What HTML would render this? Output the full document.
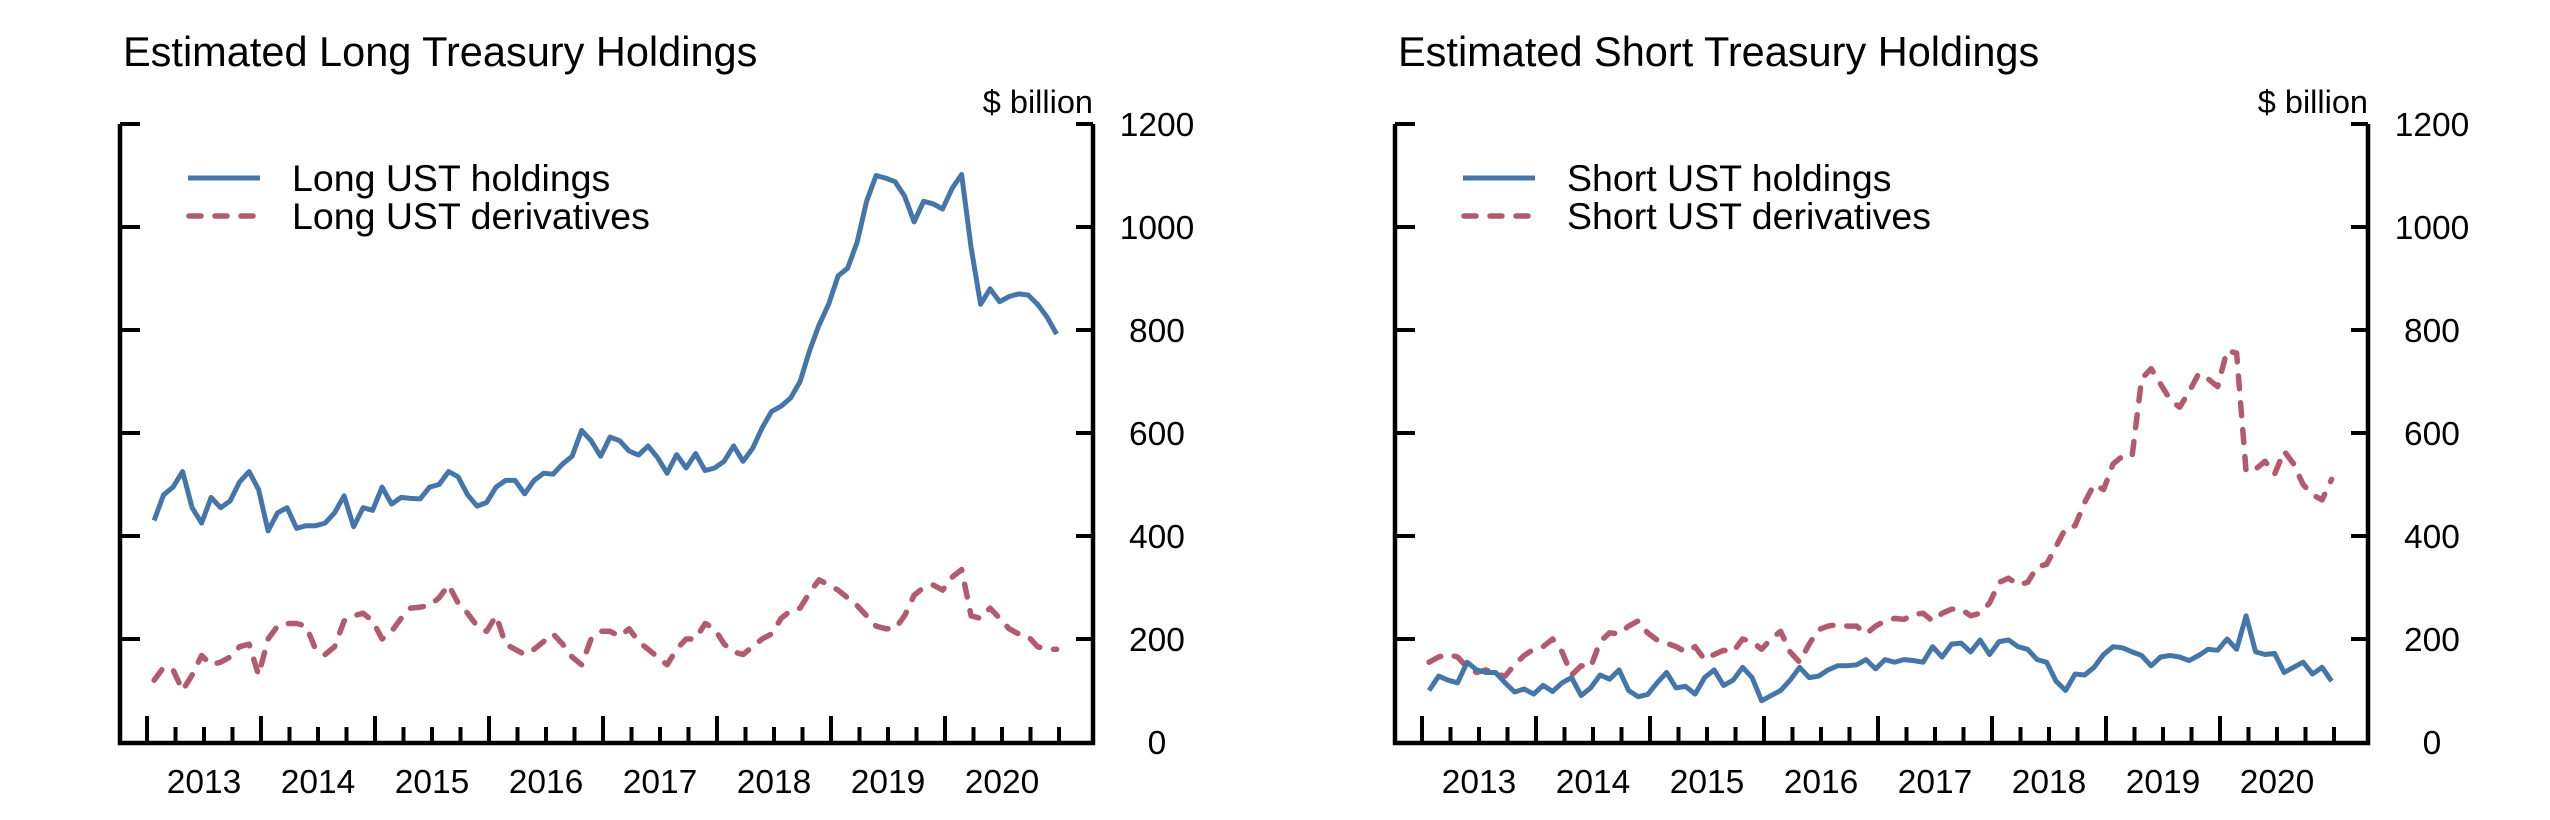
<!DOCTYPE html>
<html><head><meta charset="utf-8"><style>
html,body{margin:0;padding:0;background:#fff;}
svg{display:block;font-family:"Liberation Sans",Arial,sans-serif;}
</style></head><body>
<svg id="chart" width="2550" height="820" viewBox="0 0 2550 820" xmlns="http://www.w3.org/2000/svg"></svg>
<script>
const yearLabels = ["2013","2014","2015","2016","2017","2018","2019","2020"];
const yTicks = [0,200,400,600,800,1000,1200];
const longHoldings = [430,480,495,525,455,425,475,455,468,505,525,490,
410,445,455,415,420,420,425,445,478,418,455,450,
495,462,475,473,472,495,500,525,515,480,458,465,
495,508,508,482,508,522,520,540,555,605,585,555,
592,585,565,557,575,552,522,558,532,560,527,532,
545,575,545,570,610,642,652,668,700,760,810,850,
905,920,970,1050,1100,1095,1088,1060,1010,1050,1045,1035,
1075,1102,960,850,880,855,865,870,868,850,825,792];
const longDerivs = [120,145,140,100,130,168,150,155,165,185,190,130,
200,225,230,230,225,180,170,185,235,245,250,235,
200,215,240,260,262,265,280,305,270,250,225,215,
245,190,180,170,180,195,210,190,165,150,200,215,
215,205,220,195,180,165,150,180,200,200,230,220,
190,175,170,185,200,210,240,255,260,290,315,305,
295,280,265,245,225,220,220,245,285,300,305,295,
320,335,245,240,260,240,220,210,205,185,180,180];
const shortHoldings = [100,128,120,115,155,140,135,135,115,97,103,93,
110,98,115,125,90,105,130,122,140,100,88,92,
115,135,105,108,93,125,140,110,120,145,125,80,
90,100,120,145,125,128,140,148,148,150,160,142,
160,155,160,158,155,185,165,190,192,175,198,170,
195,198,185,180,160,155,118,100,132,130,145,170,
185,183,175,168,148,165,168,165,158,168,180,178,
200,180,245,175,170,172,135,145,155,132,145,118];
const shortDerivs = [155,165,170,165,145,135,140,132,128,150,168,180,
185,200,175,130,148,145,195,212,210,225,235,212,
198,192,185,175,185,160,170,178,175,200,195,180,
200,215,175,155,190,218,225,228,225,225,210,225,
235,240,238,248,250,235,250,258,258,245,250,270,
310,318,305,310,340,345,380,415,420,465,500,490,
540,555,555,705,725,695,665,650,680,715,705,690,
760,755,525,530,545,520,565,540,500,480,470,510];

const NS="http://www.w3.org/2000/svg";
const svg=document.getElementById('chart');
const BLUE="#4576a9", RED="#b35b6e";
function mk(tag,attrs,parent){const e=document.createElementNS(NS,tag);for(const k in attrs)e.setAttribute(k,attrs[k]);(parent||svg).appendChild(e);return e;}
function xScale(off,d){return off+147+(d-2013)*114;}
function yScale(v){return 742-v*618/1200;}
function monthDate(i){return 2013+(i+0.75)/12;}

function panel(off,title,names,s1,s2,key){
  const g=mk('g',{});
  
  
  const t=mk('text',{x:off+123,y:66,'font-size':41.5,fill:'#000'},g);t.textContent=title;
  
  
  const u=mk('text',{x:off+1093,y:113,'font-size':32.5,'text-anchor':'end',fill:'#000'},g);u.textContent='$ billion';
  
  
  const ax=mk('path',{d:`M${off+120} ${yScale(1200)} V743 H${off+1093} V${yScale(1200)}`,fill:'none',stroke:'#000','stroke-width':4.5},g);
  
  
  yTicks.forEach(v=>{
    const y=yScale(v);
    if(v>0){
      const l=mk('line',{x1:off+120,x2:off+140,y1:y,y2:y,stroke:'#000','stroke-width':4},g);
      
      
      const r=mk('line',{x1:off+1076,x2:off+1093,y1:y,y2:y,stroke:'#000','stroke-width':4},g);
      
      
    }
    const tl=mk('text',{x:off+1157,y:y+12,'font-size':33.5,'text-anchor':'middle',fill:'#000'},g);tl.textContent=String(v);
    
    
  });
  for(let q=0;q<=32;q++){
    const d=2013+q/4;const x=xScale(off,d);const major=(q%4===0&&q<32);
    const tk=mk('line',{x1:x,x2:x,y1:743,y2:major?716:727,stroke:'#000','stroke-width':4},g);
    
    
  }
  yearLabels.forEach((lab,i)=>{
    const tl=mk('text',{x:xScale(off,2013+i+0.5),y:793,'font-size':33.5,'text-anchor':'middle',fill:'#000'},g);tl.textContent=lab;
    
    
  });
  function line(vals,color,dash,name){
    const d=vals.map((v,i)=>(i?'L':'M')+xScale(off,monthDate(i)).toFixed(1)+' '+yScale(v).toFixed(1)).join(' ');
    const a={d:d,fill:'none',stroke:color,'stroke-width':dash?5.5:5,'stroke-linejoin':'round'};
    if(dash){a['stroke-dasharray']='13 14';a['stroke-linecap']='round';}
    const p=mk('path',a,g);
    
    
  }
  line(s2,RED,true,key+'-derivatives-line');
  line(s1,BLUE,false,key+'-holdings-line');
  const l1=mk('line',{x1:off+188,x2:off+260,y1:178,y2:178,stroke:BLUE,'stroke-width':5},g);
  
  
  const l2=mk('line',{x1:off+189,x2:off+258,y1:216,y2:216,stroke:RED,'stroke-width':5.5,'stroke-dasharray':'12 14','stroke-linecap':'round'},g);
  
  
  const t1=mk('text',{x:off+292,y:191,'font-size':37.5,fill:'#000'},g);t1.textContent=names[0];
  
  
  const t2=mk('text',{x:off+292,y:229,'font-size':37.5,fill:'#000'},g);t2.textContent=names[1];
  
  
}
panel(0,'Estimated Long Treasury Holdings',['Long UST holdings','Long UST derivatives'],longHoldings,longDerivs,'long');
panel(1275,'Estimated Short Treasury Holdings',['Short UST holdings','Short UST derivatives'],shortHoldings,shortDerivs,'short');
</script>
</body></html>
